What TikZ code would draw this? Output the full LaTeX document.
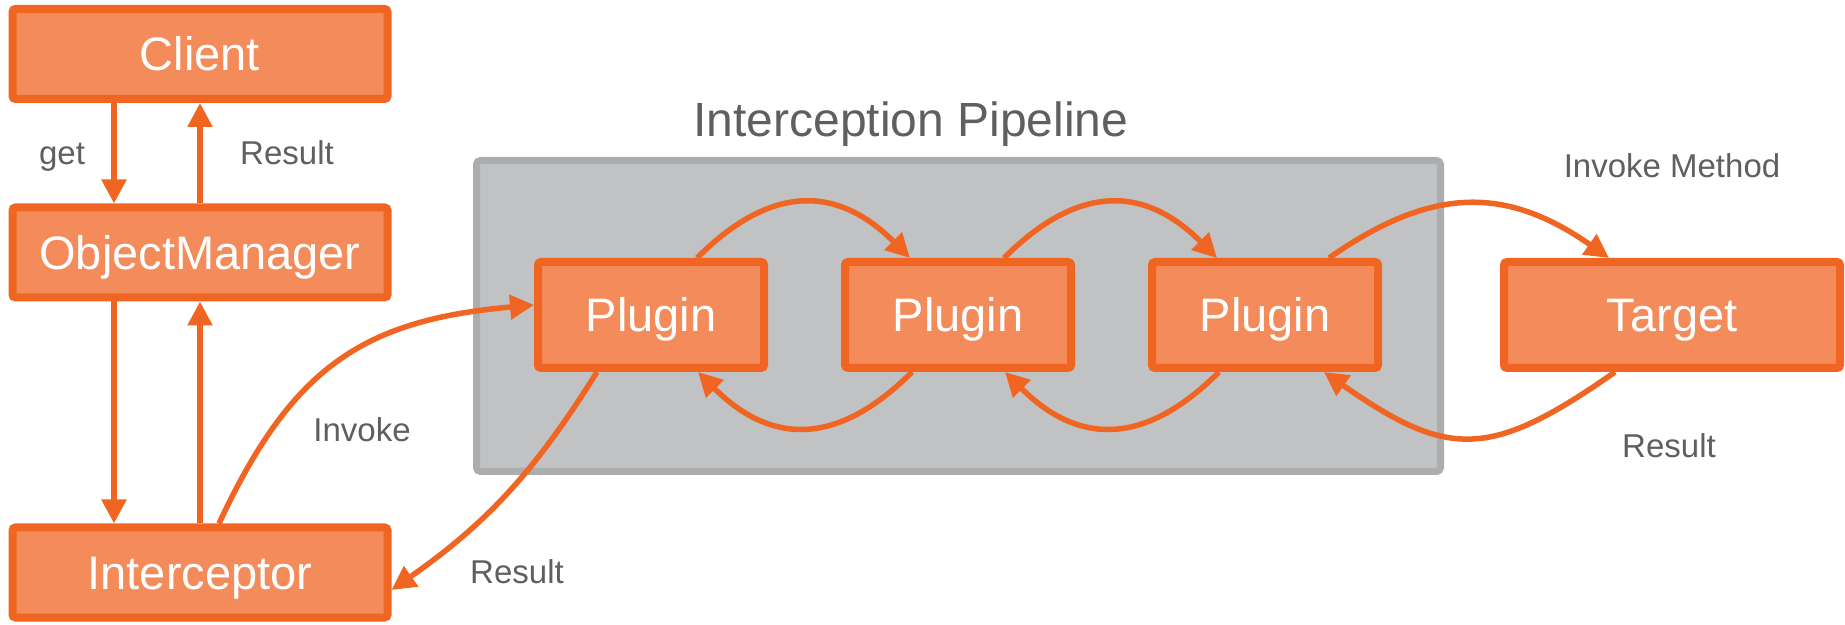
\documentclass[tikz,border=0pt]{standalone}
\usepackage{fontspec}
\setmainfont{Liberation Sans}
\usetikzlibrary{arrows.meta,shadows}
\definecolor{orng}{RGB}{241,101,34}
\definecolor{orfill}{RGB}{243,139,90}
\definecolor{lbl}{RGB}{95,95,95}
\definecolor{gfill}{RGB}{193,194,196}
\definecolor{gline}{RGB}{172,173,175}
\begin{document}
\begin{tikzpicture}[x=1pt,y=1pt,
  box/.style={draw=orng, fill=orfill, line width=8pt, rounded corners=3pt,
    text=white, font=\fontsize{47}{50}\selectfont, text height=33.5pt, text depth=0pt,
    inner sep=0pt, minimum height=90pt,
    drop shadow={shadow xshift=1.5pt, shadow yshift=-2pt, opacity=0.25}},
  plug/.style={box, minimum width=226pt, minimum height=106pt},
  arr/.style={draw=orng, line width=5.5pt, -{Triangle[length=24pt,width=24pt]}},
  lab/.style={text=lbl, font=\fontsize{33}{36}\selectfont, inner sep=0pt, anchor=base}]
\useasboundingbox (0,0) rectangle (1845,624);

% pipeline background
\node[draw=gline, fill=gfill, line width=7pt, rounded corners=4pt,
      minimum width=964pt, minimum height=311pt, inner sep=0pt,
      drop shadow={shadow xshift=1.5pt, shadow yshift=-2pt, opacity=0.2}] (pipe) at (958.5,308) {};
\node[lab, font=\fontsize{48}{52}\selectfont] (title) at (911,487) {Interception Pipeline};

% left column
\node[box, minimum width=375pt] (client) at (200,570) {Client};
\node[box, minimum width=375pt] (om) at (200,371.5) {ObjectManager};
\node[box, minimum width=375pt] (icp) at (200,51.5) {Interceptor};

% plugins and target
\node[plug] (p1) at (651,309) {Plugin};
\node[plug] (p2) at (958,309) {Plugin};
\node[plug] (p3) at (1265,309) {Plugin};
\node[box, minimum width=336pt, minimum height=106pt] (tgt) at (1672,309) {Target};

% vertical arrows
\draw[arr] ([xshift=-86pt]client.south) -- ([xshift=-86pt]om.north);
\draw[arr] (om.north) -- (client.south);
\draw[arr] ([xshift=-86pt]om.south) -- ([xshift=-86pt]icp.north);
\draw[arr] (icp.north) -- (om.south);
\node[lab] (get) at (62,459) {get};
\node[lab] (res1) at (287,459) {Result};

% interceptor <-> plugin 1
\draw[arr] ([xshift=19pt]icp.north) to[out=65,in=185,looseness=1.15] ([yshift=10pt]p1.west);
\draw[arr] ([xshift=-54pt]p1.south) to[out=238,in=35] ([yshift=-17.5pt]icp.east);
\node[lab] (inv) at (362,182) {Invoke};
\node[lab] (res2) at (517,41) {Result};

% plugin chain
\draw[arr] ([xshift=46pt]p1.north) to[out=45,in=135,looseness=1.25] ([xshift=-48pt]p2.north);
\draw[arr] ([xshift=-46pt]p2.south) to[out=225,in=315,looseness=1.25] ([xshift=47pt]p1.south);
\draw[arr] ([xshift=46pt]p2.north) to[out=45,in=135,looseness=1.25] ([xshift=-48pt]p3.north);
\draw[arr] ([xshift=-46pt]p3.south) to[out=225,in=315,looseness=1.25] ([xshift=47pt]p2.south);

% plugin 3 <-> target
\draw[arr] ([xshift=64pt]p3.north) to[out=35,in=145,looseness=1.15] ([xshift=-63pt]tgt.north);
\draw[arr] ([xshift=-57pt]tgt.south) to[out=215,in=325,looseness=1.34] ([xshift=59pt]p3.south);
\node[lab] (invm) at (1672,446) {Invoke Method};
\node[lab] (res3) at (1669,166) {Result};
\end{tikzpicture}
\end{document}
